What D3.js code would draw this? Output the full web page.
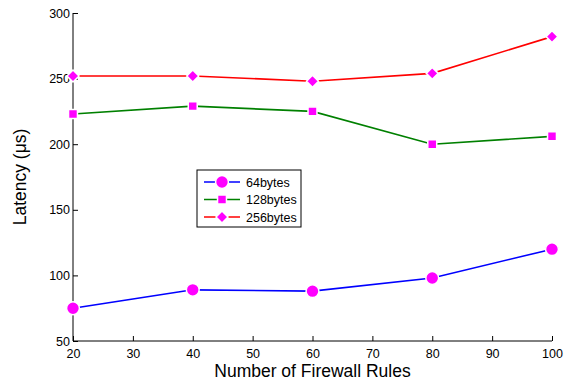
<!DOCTYPE html>
<html lang="en">
<head>
    <meta charset="utf-8">
    <script src="https://d3js.org/d3.v7.min.js"></script>
    <style>
        body { margin: 0; background: #fff; }
        text { font-family: "Liberation Sans", Arial, sans-serif; }
    </style>
</head>
<body>
    <svg id="chart"></svg>
    <script>
        // values
        const rules = [20, 40, 60, 80, 100];
        const lat64 = [75, 89, 88, 98, 120];
        const lat128 = [223, 229, 225, 200, 206];
        const lat256 = [252, 252, 248, 254, 282];
        const seriesNames = ["64bytes", "128bytes", "256bytes"];
        const xTicks = [20, 30, 40, 50, 60, 70, 80, 90, 100];
        const yTicks = [50, 100, 150, 200, 250, 300];

        const series = [
            { name: seriesNames[0], values: lat64, color: "#0000ff", marker: "circle" },
            { name: seriesNames[1], values: lat128, color: "#008000", marker: "square" },
            { name: seriesNames[2], values: lat256, color: "#ff0000", marker: "diamond" }
        ];

        const W = 567, H = 383;
        const margin = { top: 13, right: 15, bottom: 42, left: 73 };
        const width = W - margin.left - margin.right;
        const height = H - margin.top - margin.bottom;

        const svg = d3.select("#chart").attr("width", W).attr("height", H);
        const g = svg.append("g").attr("transform", `translate(${margin.left},${margin.top})`);

        const x = d3.scaleLinear().domain([20, 100]).range([0, width]);
        const y = d3.scaleLinear().domain([50, 300]).range([height, 0]);

        // axes with inward ticks
        const xAxis = g.append("g")
            .attr("transform", `translate(0,${height})`)
            .call(d3.axisBottom(x).tickValues(xTicks).tickSize(-5).tickPadding(8));
        const yAxis = g.append("g")
            .call(d3.axisLeft(y).tickValues(yTicks).tickSize(-5).tickPadding(3));
        [xAxis, yAxis].forEach(a => {
            a.select(".domain").attr("stroke", "#000").attr("stroke-width", 1);
            a.selectAll(".tick line").attr("stroke", "#000");
            a.selectAll("text").attr("font-size", 12.5).attr("fill", "#000")
                .style("font-family", "Liberation Sans, Arial, sans-serif");
        });
        xAxis.select(".domain").attr("d", `M0,0H${width}`);
        yAxis.select(".domain").attr("d", `M0,${height}V0`);

        // axis labels
        svg.append("text")
            .attr("x", margin.left + width / 2).attr("y", 377)
            .attr("text-anchor", "middle").attr("font-size", 17.5)
            .text("Number of Firewall Rules");
        svg.append("text")
            .attr("transform", `translate(26,${margin.top + height / 2}) rotate(-90)`)
            .attr("text-anchor", "middle").attr("font-size", 17.5)
            .text("Latency (μs)");

        // diamond with equal width and height, like the reference
        const flatDiamond = {
            draw(ctx, size) {
                const r = Math.sqrt(size / 2);
                ctx.moveTo(0, -r); ctx.lineTo(r, 0); ctx.lineTo(0, r); ctx.lineTo(-r, 0); ctx.closePath();
            }
        };
        const symbols = {
            circle: d3.symbol().type(d3.symbolCircle).size(130),
            square: d3.symbol().type(d3.symbolSquare).size(80),
            diamond: d3.symbol().type(flatDiamond).size(72)
        };

        const line = d3.line().x((d, i) => x(rules[i])).y(d => y(d));

        series.forEach(s => {
            g.append("path")
                .datum(s.values)
                .attr("fill", "none")
                .attr("stroke", s.color)
                .attr("stroke-width", 1.6)
                .attr("d", line);
            g.selectAll(null)
                .data(s.values)
                .enter().append("path")
                .attr("transform", (d, i) => `translate(${x(rules[i])},${y(d)})`)
                .attr("d", symbols[s.marker])
                .attr("fill", "#ff00ff")
                .attr("stroke", "#fff")
                .attr("stroke-width", 1.5);
        });

        // legend
        const lg = svg.append("g").attr("transform", "translate(197,170)");
        lg.append("rect")
            .attr("width", 104).attr("height", 57)
            .attr("fill", "#fff").attr("stroke", "#000").attr("stroke-width", 1);
        series.forEach((s, i) => {
            const yy = 12 + i * 17.5;
            lg.append("line")
                .attr("x1", 7).attr("x2", 43).attr("y1", yy).attr("y2", yy)
                .attr("stroke", s.color).attr("stroke-width", 1.6);
            lg.append("path")
                .attr("transform", `translate(25,${yy})`)
                .attr("d", symbols[s.marker])
                .attr("fill", "#ff00ff").attr("stroke", "#fff").attr("stroke-width", 1.5);
            lg.append("text")
                .attr("x", 49).attr("y", yy + 4.5)
                .attr("font-size", 12.5)
                .text(s.name);
        });
    </script>
</body>
</html>
